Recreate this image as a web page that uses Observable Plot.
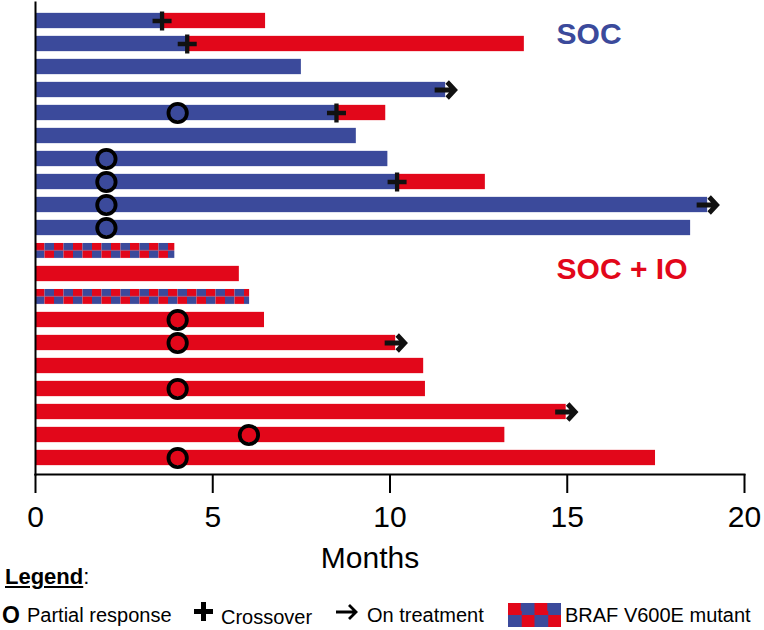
<!DOCTYPE html>
<html>
<head>
<meta charset="utf-8">
<script src="https://cdn.jsdelivr.net/npm/d3@7"></script>
<script src="https://cdn.jsdelivr.net/npm/@observablehq/plot@0.6"></script>
<style>
  body { margin: 0; background: #fff; }
  #wrap { position: relative; width: 764px; height: 630px; font-family: "Liberation Sans", Arial, sans-serif; color: #000; }
  #legend span, #legend svg, #legend div { position: absolute; white-space: nowrap; }
  .item { font-size: 20px; line-height: 20px; }
</style>
</head>
<body>
<div id="wrap">
  <div id="chart"></div>
  <div id="legend">
    <span style="left:5px;top:566px;font-size:22px;line-height:22px;"><u style="font-weight:bold;">Legend</u>:</span>
    <span class="item" style="left:2px;top:604px;font-weight:bold;font-size:23px;line-height:23px;">O</span>
    <span class="item" style="left:27px;top:605px;">Partial response</span>
    <svg style="left:194px;top:602px;" width="20" height="20"><path d="M0,9.5H19M9.5,0V19" stroke="#000" stroke-width="5"/></svg>
    <span class="item" style="left:221px;top:607px;">Crossover</span>
    <svg style="left:335px;top:603px;" width="26" height="18"><path d="M1,9H21M14,2L21,9L14,16" stroke="#000" stroke-width="2.8" fill="none"/></svg>
    <span class="item" style="left:367px;top:605px;">On treatment</span>
    <div style="left:508px;top:603px;width:53px;height:24px;background:repeating-conic-gradient(#3b4a9b 0 25%, #e2071a 0 50%) 0 0 / 26.5px 24px;"></div>
    <span class="item" style="left:565px;top:605px;">BRAF V600E mutant</span>
  </div>
</div>
<script>
// ---- data ----
const patients = ["1","2","3","4","5","6","7","8","9","10","11","12","13","14","15","16","17","18","19","20"];
const arms = ["SOC","SOC","SOC","SOC","SOC","SOC","SOC","SOC","SOC","SOC",
              "SOC + IO","SOC + IO","SOC + IO","SOC + IO","SOC + IO","SOC + IO","SOC + IO","SOC + IO","SOC + IO","SOC + IO"];
// end of the first (assigned) treatment segment, months
const firstEnd = [3.57, 4.28, 7.50, 11.57, 8.49, 9.05, 9.94, 10.20, 18.96, 18.48,
                  3.93, 5.75, 6.04, 6.46, 10.16, 10.95, 11.00, 14.97, 13.24, 17.49];
// crossover to SOC + IO (start = first segment end), end of crossover segment
const crossoverEnd = [6.49, 13.79, null, null, 9.88, null, null, 12.69, null, null,
                      null, null, null, null, null, null, null, null, null, null];
// time of partial response, months
const partialResponse = [null, null, null, null, 4.01, null, 2.0, 2.0, 2.0, 2.0,
                         null, null, null, 4.01, 4.01, null, 4.01, null, 6.02, 4.01];
const onTreatment = [false,false,false,true,false,false,false,false,true,false,
                     false,false,false,false,true,false,false,true,false,false];
const brafMutant = [false,false,false,false,false,false,false,false,false,false,
                    true,false,true,false,false,false,false,false,false,false];
const xTicks = [0, 5, 10, 15, 20];
const groupLabels = ["SOC", "SOC + IO"];

// ---- styles ----
const BLUE = "#3b4a9b", RED = "#e2071a";
const barInset = 3.85;

const rows = patients.map((p, i) => ({
  patient: p, arm: arms[i], end: firstEnd[i], crossEnd: crossoverEnd[i],
  pr: partialResponse[i], ongoing: onTreatment[i], braf: brafMutant[i]
}));

const blueSegs = rows.filter(r => r.arm === "SOC").map(r => ({patient: r.patient, x1: 0, x2: r.end}));
const redSegs = [
  ...rows.filter(r => r.crossEnd != null).map(r => ({patient: r.patient, x1: r.end, x2: r.crossEnd})),
  ...rows.filter(r => r.arm !== "SOC" && !r.braf).map(r => ({patient: r.patient, x1: 0, x2: r.end}))
];
const brafSegs = rows.filter(r => r.braf).map(r => ({patient: r.patient, x1: 0, x2: r.end}));
const crossovers = rows.filter(r => r.crossEnd != null);
const responses = rows.filter(r => r.pr != null);
const ongoing = rows.filter(r => r.ongoing);

const plusGlyph = {draw(ctx) { ctx.moveTo(-9.5, 0); ctx.lineTo(9.5, 0); ctx.moveTo(0, -9.5); ctx.lineTo(0, 9.5); }};
const arrowGlyph = {draw(ctx) { ctx.moveTo(-11, 0); ctx.lineTo(7, 0); ctx.moveTo(1.5, -8); ctx.lineTo(9, 0); ctx.lineTo(1.5, 8); }};

const svg = Plot.plot({
  width: 764,
  height: 575,
  marginLeft: 35,
  marginRight: 20,
  marginTop: 2,
  marginBottom: 101,
  style: {fontFamily: "'Liberation Sans', Arial, sans-serif", color: "#000", background: "#fff"},
  x: {domain: [0, 20]},
  y: {domain: patients, padding: 0, insetTop: 4.9, insetBottom: 3.1, axis: null},
  marks: [
    Plot.barX(blueSegs, {x1: "x1", x2: "x2", y: "patient", fill: BLUE, insetTop: barInset, insetBottom: barInset}),
    Plot.barX(redSegs, {x1: "x1", x2: "x2", y: "patient", fill: RED, insetTop: barInset, insetBottom: barInset}),
    Plot.barX(brafSegs, {x1: "x1", x2: "x2", y: "patient", fill: "url(#braf)", insetTop: barInset, insetBottom: barInset}),
    Plot.dot(responses, {x: "pr", y: "patient", r: 9.2, fill: "none", stroke: "#000", strokeWidth: 3.8}),
    Plot.dot(crossovers, {x: "end", y: "patient", symbol: plusGlyph, fill: "none", stroke: "#111", strokeWidth: 4.3}),
    Plot.dot(ongoing, {x: "end", y: "patient", symbol: arrowGlyph, fill: "none", stroke: "#111", strokeWidth: 4.8, strokeLinejoin: "miter", strokeLinecap: "butt"}),
    Plot.text([groupLabels[0]], {x: 14.7, y: () => patients[1], text: d => d, dy: -10, textAnchor: "start", fontSize: 30, fontWeight: "bold", fill: BLUE}),
    Plot.text([groupLabels[1]], {x: 14.7, y: () => patients[11], text: d => d, dy: -4.7, textAnchor: "start", fontSize: 30, fontWeight: "bold", fill: RED}),
    Plot.frame({anchor: "left", strokeWidth: 2}),
    Plot.frame({anchor: "bottom", strokeWidth: 2}),
    Plot.axisX({ticks: xTicks, tickFormat: d3.format("d"), tickSize: 19, tickPadding: 12, fontSize: 30, strokeWidth: 2, label: null}),
    Plot.text(["Months"], {text: d => d, frameAnchor: "bottom", dy: 93, dx: -20, lineAnchor: "bottom", fontSize: 30})
  ]
});

// checkered pattern for BRAF V600E mutant bars
const yS = svg.scale("y"), xS = svg.scale("x");
const y0 = yS.apply(patients[0]);
const step = yS.apply(patients[1]) - y0;
const barH = step - 2 * barInset;
const cell = 9.5;
const pat = d3.select(svg).insert("defs", ":first-child")
  .append("pattern").attr("id", "braf").attr("patternUnits", "userSpaceOnUse")
  .attr("x", xS.apply(0)).attr("y", y0 + barInset).attr("width", 2 * cell).attr("height", step);
pat.append("rect").attr("x", 0).attr("y", 0).attr("width", cell).attr("height", barH / 2).attr("fill", RED);
pat.append("rect").attr("x", cell).attr("y", 0).attr("width", cell).attr("height", barH / 2).attr("fill", BLUE);
pat.append("rect").attr("x", 0).attr("y", barH / 2).attr("width", cell).attr("height", barH / 2).attr("fill", BLUE);
pat.append("rect").attr("x", cell).attr("y", barH / 2).attr("width", cell).attr("height", barH / 2).attr("fill", RED);

document.getElementById("chart").appendChild(svg);
</script>
</body>
</html>
